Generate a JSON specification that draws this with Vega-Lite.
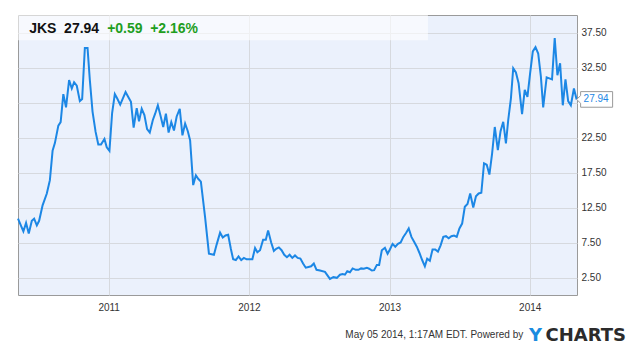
{
  "$schema": "https://vega.github.io/schema/vega-lite/v6.json",
  "autosize": {"type": "none"},
  "width": 559,
  "height": 280,
  "padding": {"left": 18, "top": 15, "right": 63, "bottom": 53},
  "background": "#ffffff",
  "config": {
    "view": {"fill": "#ebf1fc", "stroke": "#9a9a9a", "strokeWidth": 1},
    "font": "Liberation Sans",
    "text": {"font": "Liberation Sans"}
  },
  "datasets": {
    "prices": [
      {"date": "2010-05-10", "price": 10.9},
      {"date": "2010-05-24", "price": 9.1},
      {"date": "2010-05-31", "price": 10.3},
      {"date": "2010-06-07", "price": 8.8},
      {"date": "2010-06-15", "price": 10.6},
      {"date": "2010-06-21", "price": 10.9},
      {"date": "2010-06-28", "price": 9.95},
      {"date": "2010-07-04", "price": 10.6},
      {"date": "2010-07-13", "price": 12.8},
      {"date": "2010-07-24", "price": 14.5},
      {"date": "2010-08-01", "price": 16.4},
      {"date": "2010-08-08", "price": 20.6},
      {"date": "2010-08-14", "price": 21.7},
      {"date": "2010-08-23", "price": 24.2},
      {"date": "2010-08-29", "price": 24.7},
      {"date": "2010-09-05", "price": 28.7},
      {"date": "2010-09-12", "price": 26.8},
      {"date": "2010-09-20", "price": 30.7},
      {"date": "2010-09-27", "price": 29.5},
      {"date": "2010-10-03", "price": 30.4},
      {"date": "2010-10-10", "price": 29.9},
      {"date": "2010-10-18", "price": 27.7},
      {"date": "2010-10-24", "price": 28.0},
      {"date": "2010-10-31", "price": 35.3},
      {"date": "2010-11-07", "price": 35.3},
      {"date": "2010-11-13", "price": 30.7},
      {"date": "2010-11-20", "price": 26.2},
      {"date": "2010-11-28", "price": 23.3},
      {"date": "2010-12-05", "price": 21.5},
      {"date": "2010-12-12", "price": 21.5},
      {"date": "2010-12-21", "price": 22.3},
      {"date": "2010-12-27", "price": 21.1},
      {"date": "2011-01-03", "price": 20.6},
      {"date": "2011-01-10", "price": 26.0},
      {"date": "2011-01-17", "price": 28.7},
      {"date": "2011-01-23", "price": 28.1},
      {"date": "2011-01-31", "price": 27.2},
      {"date": "2011-02-07", "price": 28.1},
      {"date": "2011-02-14", "price": 29.0},
      {"date": "2011-02-21", "price": 28.3},
      {"date": "2011-02-28", "price": 27.6},
      {"date": "2011-03-07", "price": 23.9},
      {"date": "2011-03-15", "price": 26.7},
      {"date": "2011-03-21", "price": 24.8},
      {"date": "2011-03-28", "price": 26.6},
      {"date": "2011-04-04", "price": 25.7},
      {"date": "2011-04-11", "price": 23.7},
      {"date": "2011-04-18", "price": 23.2},
      {"date": "2011-04-26", "price": 25.0},
      {"date": "2011-05-02", "price": 25.9},
      {"date": "2011-05-09", "price": 27.1},
      {"date": "2011-05-16", "price": 25.6},
      {"date": "2011-05-23", "price": 24.0},
      {"date": "2011-05-30", "price": 25.9},
      {"date": "2011-06-06", "price": 23.2},
      {"date": "2011-06-13", "price": 24.7},
      {"date": "2011-06-20", "price": 23.5},
      {"date": "2011-06-27", "price": 25.5},
      {"date": "2011-07-05", "price": 26.6},
      {"date": "2011-07-12", "price": 22.8},
      {"date": "2011-07-19", "price": 24.5},
      {"date": "2011-07-26", "price": 23.4},
      {"date": "2011-08-01", "price": 22.1},
      {"date": "2011-08-09", "price": 15.7},
      {"date": "2011-08-16", "price": 17.1},
      {"date": "2011-08-22", "price": 16.6},
      {"date": "2011-08-29", "price": 16.2},
      {"date": "2011-09-09", "price": 11.1},
      {"date": "2011-09-19", "price": 5.9},
      {"date": "2011-10-02", "price": 5.75},
      {"date": "2011-10-09", "price": 7.2},
      {"date": "2011-10-18", "price": 8.9},
      {"date": "2011-10-25", "price": 8.2},
      {"date": "2011-11-01", "price": 8.5},
      {"date": "2011-11-08", "price": 8.6},
      {"date": "2011-11-15", "price": 6.6},
      {"date": "2011-11-21", "price": 5.1},
      {"date": "2011-11-28", "price": 5.0},
      {"date": "2011-12-05", "price": 5.5},
      {"date": "2011-12-12", "price": 5.0},
      {"date": "2011-12-19", "price": 5.3},
      {"date": "2011-12-26", "price": 5.1},
      {"date": "2012-01-10", "price": 5.1},
      {"date": "2012-01-17", "price": 6.7},
      {"date": "2012-01-23", "price": 6.1},
      {"date": "2012-01-30", "price": 6.4},
      {"date": "2012-02-07", "price": 7.9},
      {"date": "2012-02-14", "price": 7.9},
      {"date": "2012-02-20", "price": 9.2},
      {"date": "2012-02-28", "price": 7.5},
      {"date": "2012-03-06", "price": 6.3},
      {"date": "2012-03-12", "price": 6.6},
      {"date": "2012-03-19", "price": 6.8},
      {"date": "2012-03-26", "price": 6.4},
      {"date": "2012-04-02", "price": 5.75},
      {"date": "2012-04-09", "price": 5.4},
      {"date": "2012-04-16", "price": 5.75},
      {"date": "2012-04-23", "price": 5.3},
      {"date": "2012-04-30", "price": 5.65},
      {"date": "2012-05-07", "price": 5.3},
      {"date": "2012-05-14", "price": 5.2},
      {"date": "2012-05-21", "price": 4.5},
      {"date": "2012-05-28", "price": 3.9},
      {"date": "2012-06-04", "price": 4.0},
      {"date": "2012-06-11", "price": 4.1},
      {"date": "2012-06-18", "price": 4.5},
      {"date": "2012-06-25", "price": 3.6},
      {"date": "2012-07-04", "price": 3.5},
      {"date": "2012-07-17", "price": 3.3},
      {"date": "2012-07-30", "price": 2.3},
      {"date": "2012-08-08", "price": 2.55},
      {"date": "2012-08-17", "price": 2.45},
      {"date": "2012-08-25", "price": 2.9},
      {"date": "2012-09-01", "price": 3.0},
      {"date": "2012-09-07", "price": 2.9},
      {"date": "2012-09-13", "price": 3.4},
      {"date": "2012-09-20", "price": 3.25},
      {"date": "2012-09-27", "price": 3.8},
      {"date": "2012-10-05", "price": 3.6},
      {"date": "2012-10-12", "price": 3.6},
      {"date": "2012-10-19", "price": 3.8},
      {"date": "2012-10-26", "price": 3.75},
      {"date": "2012-11-03", "price": 3.9},
      {"date": "2012-11-09", "price": 3.75},
      {"date": "2012-11-16", "price": 3.5},
      {"date": "2012-11-22", "price": 3.55},
      {"date": "2012-11-29", "price": 4.3},
      {"date": "2012-12-05", "price": 4.3},
      {"date": "2012-12-12", "price": 6.4},
      {"date": "2012-12-20", "price": 6.75},
      {"date": "2012-12-27", "price": 5.9},
      {"date": "2013-01-02", "price": 6.5},
      {"date": "2013-01-09", "price": 7.3},
      {"date": "2013-01-16", "price": 6.9},
      {"date": "2013-01-23", "price": 7.3},
      {"date": "2013-01-30", "price": 7.5},
      {"date": "2013-02-06", "price": 8.3},
      {"date": "2013-02-13", "price": 8.85},
      {"date": "2013-02-20", "price": 9.5},
      {"date": "2013-02-27", "price": 8.3},
      {"date": "2013-03-06", "price": 7.6},
      {"date": "2013-03-13", "price": 6.9},
      {"date": "2013-03-20", "price": 6.0},
      {"date": "2013-03-27", "price": 5.0},
      {"date": "2013-04-03", "price": 4.1},
      {"date": "2013-04-09", "price": 5.2},
      {"date": "2013-04-16", "price": 4.9},
      {"date": "2013-04-23", "price": 6.5},
      {"date": "2013-04-30", "price": 6.5},
      {"date": "2013-05-07", "price": 6.2},
      {"date": "2013-05-14", "price": 7.1},
      {"date": "2013-05-21", "price": 8.3},
      {"date": "2013-05-28", "price": 8.4},
      {"date": "2013-06-04", "price": 8.1},
      {"date": "2013-06-11", "price": 8.4},
      {"date": "2013-06-18", "price": 8.5},
      {"date": "2013-06-25", "price": 8.3},
      {"date": "2013-07-02", "price": 9.5},
      {"date": "2013-07-09", "price": 10.2},
      {"date": "2013-07-16", "price": 12.6},
      {"date": "2013-07-23", "price": 13.0},
      {"date": "2013-07-30", "price": 14.5},
      {"date": "2013-08-07", "price": 12.5},
      {"date": "2013-08-14", "price": 14.1},
      {"date": "2013-08-21", "price": 14.5},
      {"date": "2013-08-28", "price": 14.6},
      {"date": "2013-09-04", "price": 18.8},
      {"date": "2013-09-11", "price": 18.6},
      {"date": "2013-09-18", "price": 17.2},
      {"date": "2013-09-25", "price": 20.2},
      {"date": "2013-10-02", "price": 24.0},
      {"date": "2013-10-10", "price": 20.7},
      {"date": "2013-10-17", "price": 23.4},
      {"date": "2013-10-24", "price": 24.75},
      {"date": "2013-10-31", "price": 21.65},
      {"date": "2013-11-06", "price": 25.0},
      {"date": "2013-11-13", "price": 28.1},
      {"date": "2013-11-19", "price": 32.4},
      {"date": "2013-11-26", "price": 31.8},
      {"date": "2013-12-03", "price": 30.25},
      {"date": "2013-12-12", "price": 25.85},
      {"date": "2013-12-19", "price": 29.3},
      {"date": "2013-12-26", "price": 28.3},
      {"date": "2014-01-02", "price": 31.7},
      {"date": "2014-01-09", "price": 34.8},
      {"date": "2014-01-16", "price": 35.4},
      {"date": "2014-01-23", "price": 34.5},
      {"date": "2014-01-30", "price": 31.2},
      {"date": "2014-02-05", "price": 26.8},
      {"date": "2014-02-14", "price": 31.1},
      {"date": "2014-02-21", "price": 30.95},
      {"date": "2014-02-28", "price": 30.8},
      {"date": "2014-03-07", "price": 36.7},
      {"date": "2014-03-14", "price": 31.4},
      {"date": "2014-03-21", "price": 33.1},
      {"date": "2014-03-28", "price": 27.1},
      {"date": "2014-04-04", "price": 30.8},
      {"date": "2014-04-11", "price": 27.7},
      {"date": "2014-04-18", "price": 27.1},
      {"date": "2014-04-26", "price": 29.5},
      {"date": "2014-05-03", "price": 27.94}
    ]
  },
  "layer": [
    {
      "data": {"values": [{}]},
      "mark": {"type": "rect", "color": "#ffffff", "opacity": 0.6},
      "encoding": {
        "x": {"datum": {"year": 2010, "month": 5, "date": 10, "utc": true}, "type": "temporal"},
        "x2": {"datum": {"year": 2013, "month": 4, "date": 11, "utc": true}},
        "y": {"datum": 40, "type": "quantitative"},
        "y2": {"datum": 36.4}
      }
    },
    {
      "data": {"name": "prices"},
      "mark": {"type": "line", "color": "#1c87e5", "strokeWidth": 2},
      "encoding": {
        "x": {
          "field": "date",
          "type": "temporal",
          "scale": {
            "type": "utc",
            "domain": [
              {"year": 2010, "month": 5, "date": 10, "utc": true},
              {"year": 2014, "month": 5, "date": 4, "utc": true}
            ]
          },
          "axis": {
            "title": null,
            "values": [
              {"year": 2011, "month": 1, "date": 1, "utc": true},
              {"year": 2012, "month": 1, "date": 1, "utc": true},
              {"year": 2013, "month": 1, "date": 1, "utc": true},
              {"year": 2014, "month": 1, "date": 1, "utc": true}
            ],
            "tickCount": 20,
            "format": "%Y",
            "formatType": "utc",
            "labelFont": "Liberation Sans",
            "labelFontSize": 10,
            "labelColor": "#333333",
            "labelPadding": 7,
            "labelOverlap": false,
            "ticks": false,
            "tickSize": 0,
            "domain": false,
            "grid": true,
            "gridColor": "#d6d9de",
            "gridWidth": 1
          }
        },
        "y": {
          "field": "price",
          "type": "quantitative",
          "scale": {"domain": [0, 40], "nice": false, "zero": false},
          "axis": {
            "title": null,
            "orient": "right",
            "values": [2.5, 7.5, 12.5, 17.5, 22.5, 27.5, 32.5, 37.5],
            "tickCount": 20,
            "format": ".2f",
            "labelExpr": "datum.value == 27.5 ? '' : datum.label",
            "labelFont": "Liberation Sans",
            "labelFontSize": 10,
            "labelColor": "#333333",
            "labelPadding": 4,
            "labelOverlap": false,
            "labelBound": false,
            "ticks": false,
            "tickSize": 0,
            "domain": false,
            "grid": true,
            "gridColor": "#d6d9de",
            "gridWidth": 1
          }
        }
      }
    },
    {
      "data": {"values": [{"t": "JKS"}]},
      "mark": {"type": "text", "align": "left", "baseline": "alphabetic", "fontSize": 14, "fontWeight": "bold", "color": "#111111"},
      "encoding": {
        "x": {"datum": {"year": 2010, "month": 6, "date": 8, "utc": true}, "type": "temporal"},
        "y": {"datum": 37.41, "type": "quantitative"},
        "text": {"field": "t"}
      }
    },
    {
      "data": {"values": [{"t": "27.94"}]},
      "mark": {"type": "text", "align": "left", "baseline": "alphabetic", "fontSize": 14, "fontWeight": "bold", "color": "#111111"},
      "encoding": {
        "x": {"datum": {"year": 2010, "month": 9, "date": 7, "utc": true}, "type": "temporal"},
        "y": {"datum": 37.41, "type": "quantitative"},
        "text": {"field": "t"}
      }
    },
    {
      "data": {"values": [{"t": "+0.59"}]},
      "mark": {"type": "text", "align": "left", "baseline": "alphabetic", "fontSize": 14, "fontWeight": "bold", "color": "#1f9e1f"},
      "encoding": {
        "x": {"datum": {"year": 2010, "month": 12, "date": 28, "utc": true}, "type": "temporal"},
        "y": {"datum": 37.41, "type": "quantitative"},
        "text": {"field": "t"}
      }
    },
    {
      "data": {"values": [{"t": "+2.16%"}]},
      "mark": {"type": "text", "align": "left", "baseline": "alphabetic", "fontSize": 14, "fontWeight": "bold", "color": "#1f9e1f"},
      "encoding": {
        "x": {"datum": {"year": 2011, "month": 4, "date": 19, "utc": true}, "type": "temporal"},
        "y": {"datum": 37.41, "type": "quantitative"},
        "text": {"field": "t"}
      }
    },
    {
      "data": {"values": [{}]},
      "mark": {
        "type": "point",
        "shape": "M0,0 L0.4,-0.38 L0.4,-0.78 L3.6,-0.78 L3.6,0.78 L0.4,0.78 L0.4,0.38 Z",
        "size": 400,
        "filled": true,
        "fill": "#ffffff",
        "fillOpacity": 1,
        "stroke": "#999999",
        "strokeWidth": 1,
        "strokeOpacity": 1,
        "opacity": 1
      },
      "encoding": {
        "x": {"datum": {"year": 2014, "month": 5, "date": 3, "utc": true}, "type": "temporal"},
        "y": {"datum": 27.94, "type": "quantitative"}
      }
    },
    {
      "data": {"values": [{"t": "27.94"}]},
      "mark": {"type": "text", "align": "left", "baseline": "middle", "dx": 7, "fontSize": 10, "color": "#1c87e5"},
      "encoding": {
        "x": {"datum": {"year": 2014, "month": 5, "date": 3, "utc": true}, "type": "temporal"},
        "y": {"datum": 27.94, "type": "quantitative"},
        "text": {"field": "t"}
      }
    },
    {
      "data": {"values": [{"t": "May 05 2014, 1:17AM EDT.  Powered by"}]},
      "mark": {"type": "text", "align": "right", "baseline": "alphabetic", "fontSize": 10, "color": "#333333"},
      "encoding": {
        "x": {"datum": {"year": 2013, "month": 12, "date": 15, "utc": true}, "type": "temporal"},
        "y": {"datum": -6.2, "type": "quantitative"},
        "text": {"field": "t"}
      }
    },
    {
      "data": {"values": [{"t": "Y"}]},
      "mark": {"type": "text", "align": "left", "baseline": "alphabetic", "fontSize": 18, "fontWeight": "bold", "font": "DejaVu Sans", "color": "#1a8be0"},
      "encoding": {
        "x": {"datum": {"year": 2013, "month": 12, "date": 30, "utc": true}, "type": "temporal"},
        "y": {"datum": -6.53, "type": "quantitative"},
        "text": {"field": "t"}
      }
    },
    {
      "data": {"values": [{"t": "CHARTS"}]},
      "mark": {"type": "text", "align": "left", "baseline": "alphabetic", "fontSize": 18, "fontWeight": "bold", "font": "DejaVu Sans", "color": "#2b2b2b"},
      "encoding": {
        "x": {"datum": {"year": 2014, "month": 2, "date": 11, "utc": true}, "type": "temporal"},
        "y": {"datum": -6.53, "type": "quantitative"},
        "text": {"field": "t"}
      }
    }
  ]
}
